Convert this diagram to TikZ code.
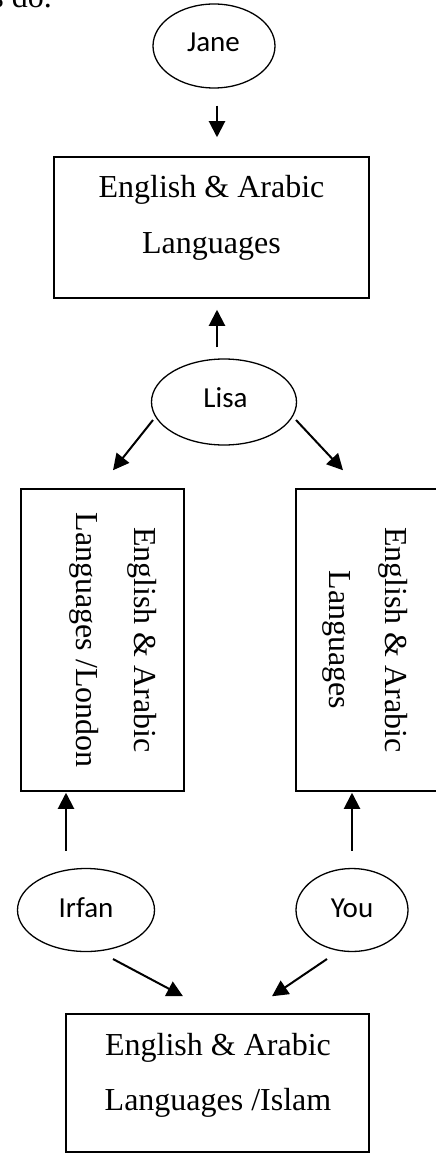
\documentclass[tikz,border=0pt]{standalone}
\usepackage{fontspec}
\setmainfont{Liberation Serif}
\newfontfamily\calib{Carlito}
\usetikzlibrary{shapes.geometric,arrows.meta,calc}

\tikzset{
  oval/.style={draw, line width=1.3pt, ellipse, inner sep=0pt},
  tbox/.style={draw, line width=1.5pt, rectangle, inner sep=0pt},
  who/.style={font=\calib\fontsize{29}{34}\selectfont, anchor=base, inner sep=0pt},
  serif/.style={font=\fontsize{32}{40}\selectfont, anchor=base, inner sep=0pt},
  vserif/.style={serif, rotate=-90},
  arr/.style={line width=2pt, -{Triangle[length=16pt,width=16pt]}},
}

\begin{document}
\begin{tikzpicture}[x=1pt, y=-1pt]
  \useasboundingbox (0,0) rectangle (436,1153);
  \clip (0,0) rectangle (436,1153);

  % running text above the chart
  \node[serif, anchor=base east] (prev) at (52,8) {s do.};

  % people
  \node[oval, minimum width=122, minimum height=84] (jane)  at (214,46)  {};
  \node[oval, minimum width=145, minimum height=86] (lisa)  at (224,402) {};
  \node[oval, minimum width=137, minimum height=83] (irfan) at (86,910)  {};
  \node[oval, minimum width=112, minimum height=83] (you)   at (352,910) {};
  \node[who] (janeT)  at (213.5,52) {Jane};
  \node[who] (lisaT)  at (225.5,407) {Lisa};
  \node[who] (irfanT) at (86,917) {Irfan};
  \node[who] (youT)   at (352,917) {You};

  % language boxes
  \node[tbox, minimum width=315, minimum height=141] (top)    at (211.5,227.5) {};
  \node[tbox, minimum width=163, minimum height=302] (left)   at (102.5,640) {};
  \node[tbox, minimum width=140.5, minimum height=302] (right) at (366.25,640) {};
  \node[tbox, minimum width=303, minimum height=138] (bottom) at (217.5,1083) {};

  \node[serif] (topA) at (211.5,197) {English \& Arabic};
  \node[serif] (topB) at (211.5,253) {Languages};
  \node[vserif] (leftA)  at (134,640) {English \& Arabic};
  \node[vserif] (leftB)  at (76,640)  {Languages /London};
  \node[vserif] (rightA) at (385,640) {English \& Arabic};
  \node[vserif] (rightB) at (329,640) {Languages};
  \node[serif] (botA) at (218,1055) {English \& Arabic};
  \node[serif] (botB) at (218,1110) {Languages /Islam};

  % arrow ends
  \coordinate (j1) at ($(jane.south)+(3,17)$);
  \coordinate (j2) at ($(top.north)+(5.5,-19)$);
  \coordinate (l1) at ($(lisa.north)+(-7,-11)$);
  \coordinate (l2) at ($(top.south)+(5.5,11)$);
  \coordinate (l3) at (153,420);
  \coordinate (l4) at ($(left.north)+(10.5,-18)$);
  \coordinate (l5) at (296,420);
  \coordinate (l6) at ($(right.north)+(-23.25,-18)$);
  \coordinate (i1) at ($(irfan.north)+(-20,-17)$);
  \coordinate (i2) at ($(left.south)+(-36.5,1)$);
  \coordinate (y1) at ($(you.north)+(0,-17)$);
  \coordinate (y2) at ($(right.south)+(-14.25,1)$);
  \coordinate (i3) at (113,959);
  \coordinate (i4) at ($(bottom.north)+(-34.5,-17)$);
  \coordinate (y3) at (327,959);
  \coordinate (y4) at ($(bottom.north)+(54.5,-17)$);

  \draw[arr] (j1) -- (j2);
  \draw[arr] (l1) -- (l2);
  \draw[arr] (l3) -- (l4);
  \draw[arr] (l5) -- (l6);
  \draw[arr] (i1) -- (i2);
  \draw[arr] (y1) -- (y2);
  \draw[arr] (i3) -- (i4);
  \draw[arr] (y3) -- (y4);
\end{tikzpicture}
\end{document}
